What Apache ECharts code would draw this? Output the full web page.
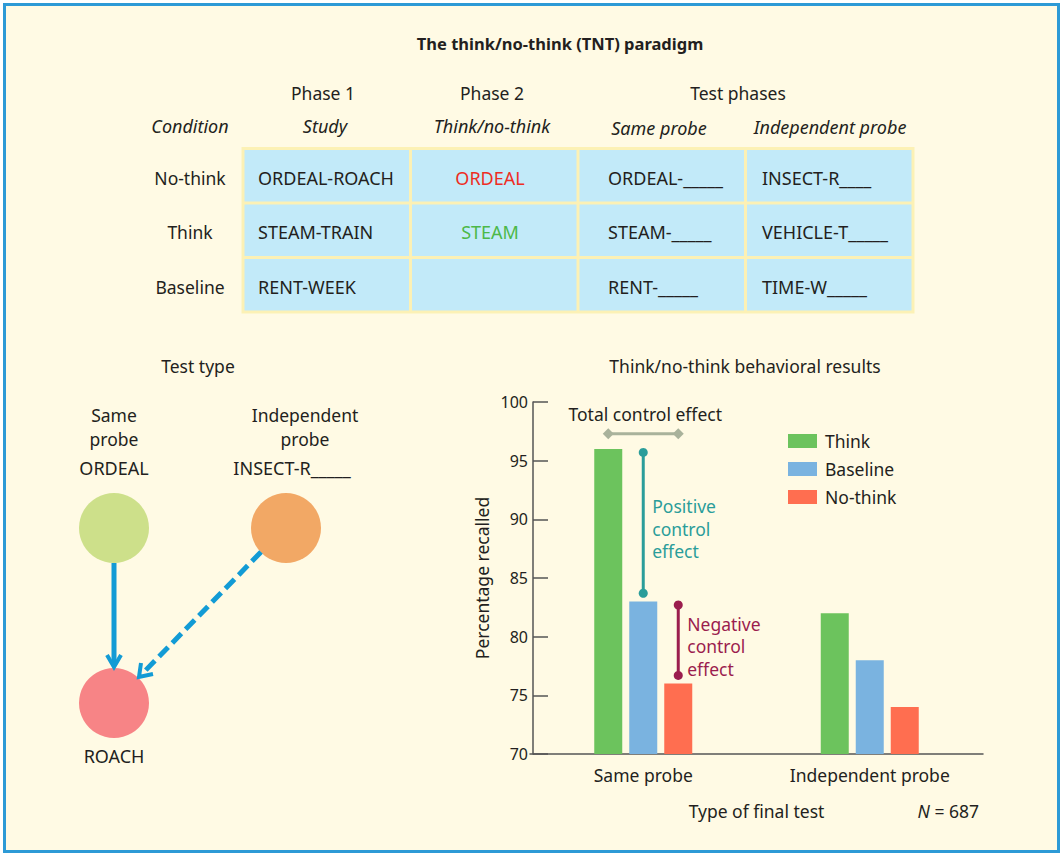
<!DOCTYPE html>
<html><head><meta charset="utf-8">
<script src="https://cdn.jsdelivr.net/npm/echarts@6/dist/echarts.min.js"></script>
<style>html,body{margin:0;padding:0;background:#fff}#c{width:1063px;height:858px}</style>
</head><body><div id="c"></div>
<script>
// ---------- data ----------
const testTypes = ['Same probe', 'Independent probe'];
const seriesNames = ['Think', 'Baseline', 'No-think'];
const thinkValues = [96, 82];
const baselineValues = [83, 78];
const noThinkValues = [76, 74];
const yTickValues = [70, 75, 80, 85, 90, 95, 100];
// [category index, from bar slot, to bar slot, level]
const totalEffect = [[0, 0, 2, 97.3]];
// [category index, bar slot, top value, bottom value]
const positiveEffect = [[0, 1, 95.7, 83.7]];
const negativeEffect = [[0, 2, 82.7, 76.7]];

const conditions = ['No-think', 'Think', 'Baseline'];
const phaseHeaders = ['Phase 1', 'Phase 2', 'Test phases'];
const subHeaders = ['Condition', 'Study', 'Think/no-think', 'Same probe', 'Independent probe'];
const studyPairs = ['ORDEAL-ROACH', 'STEAM-TRAIN', 'RENT-WEEK'];
const phase2Cues = ['ORDEAL', 'STEAM', ''];
const sameProbes = ['ORDEAL-_____', 'STEAM-_____', 'RENT-_____'];
const independentProbes = ['INSECT-R____', 'VEHICLE-T_____', 'TIME-W_____'];

// ---------- styles ----------
const FONT = '"Noto Sans", "Open Sans", sans-serif';
const INK = '#231f20';
const COLORS = ['#6cc35d', '#7ab3e0', '#ff6e50'];
const BAR_W = 28, BAR_GAP = 7;
const TEAL = '#2a9d9a', MAROON = '#9b1d4e', GREY = '#a9b29b';
const ARROW = '#129bd5';
const FS = 17.5, FS_UP = 18;

function txt(text, x, y, opt) {
  opt = opt || {};
  return {
    type: 'text', x: x, y: y, silent: true,
    style: {
      text: text,
      font: (opt.style || 'normal') + ' ' + (opt.weight || 'normal') + ' ' + (opt.size || FS) + 'px ' + FONT,
      fill: opt.fill || INK,
      textAlign: opt.align || 'center',
      textVerticalAlign: 'middle'
    }
  };
}

// ---------- graphics (table + diagram) ----------
const g = [];
g.push({ type: 'rect', z: -100, silent: true, shape: { x: 4.5, y: 4.5, width: 1054, height: 847 },
  style: { fill: '#fffae4', stroke: '#2d9ad6', lineWidth: 3 } });
g.push(txt('The think/no-think (TNT) paradigm', 560, 43, { weight: 'bold', size: 16.5 }));

const colLeft = 241.5, colW = 167.5, rowTop = 147, rowH = 54.5;
g.push(txt(phaseHeaders[0], 323, 93));
g.push(txt(phaseHeaders[1], 492, 93));
g.push(txt(phaseHeaders[2], 738, 93));
g.push(txt(subHeaders[0], 190, 126, { style: 'italic', size: 18 }));
g.push(txt(subHeaders[1], 325, 126, { style: 'italic', size: 18 }));
g.push(txt(subHeaders[2], 492, 126, { style: 'italic', size: 18 }));
g.push(txt(subHeaders[3], 659, 128, { style: 'italic', size: 18 }));
g.push(txt(subHeaders[4], 830, 127, { style: 'italic', size: 18 }));

g.push({ type: 'rect', silent: true, shape: { x: colLeft, y: rowTop, width: colW * 4 + 3, height: rowH * 3 + 3 },
  style: { fill: '#fcf1b5' } });
for (let r = 0; r < 3; r++) {
  for (let c = 0; c < 4; c++) {
    g.push({ type: 'rect', silent: true,
      shape: { x: colLeft + 3 + c * colW, y: rowTop + 3 + r * rowH, width: colW - 3, height: rowH - 3 },
      style: { fill: '#c2eaf9' } });
  }
  const cy = rowTop + 3 + r * rowH + (rowH - 3) / 2 + 2;
  g.push(txt(conditions[r], 190, cy));
  g.push(txt(studyPairs[r], 258, cy, { align: 'left', size: FS_UP }));
  g.push(txt(phase2Cues[r], 490, cy, { size: FS_UP, fill: r === 0 ? '#ee2d24' : '#4cb848' }));
  g.push(txt(sameProbes[r], 608, cy, { align: 'left', size: FS_UP }));
  g.push(txt(independentProbes[r], 762, cy, { align: 'left', size: FS_UP }));
}

// diagram
g.push(txt('Test type', 198, 366));
g.push(txt('Same', 114, 415));
g.push(txt('probe', 114, 439));
g.push(txt('ORDEAL', 114, 468, { size: FS_UP }));
g.push(txt('Independent', 305, 415));
g.push(txt('probe', 305, 439));
g.push(txt('INSECT-R_____', 292, 468, { size: FS_UP }));
g.push(txt('ROACH', 114, 756, { size: FS_UP }));
g.push({ type: 'circle', silent: true, shape: { cx: 114, cy: 528, r: 35 }, style: { fill: '#cde08a' } });
g.push({ type: 'circle', silent: true, shape: { cx: 286, cy: 528, r: 35 }, style: { fill: '#f2a865' } });
g.push({ type: 'circle', silent: true, shape: { cx: 114, cy: 703, r: 35 }, style: { fill: '#f78486' } });
g.push({ type: 'line', silent: true, shape: { x1: 114, y1: 563, x2: 114, y2: 664 },
  style: { stroke: ARROW, lineWidth: 5 } });
g.push({ type: 'polyline', silent: true, shape: { points: [[107, 655], [114, 667], [121, 655]] },
  style: { stroke: ARROW, lineWidth: 4, fill: null } });
g.push({ type: 'line', silent: true, shape: { x1: 261, y1: 552, x2: 143, y2: 673 },
  style: { stroke: ARROW, lineWidth: 5, lineDash: [13, 6] } });
g.push({ type: 'polyline', silent: true, shape: { points: [[141, 663], [139, 677], [153, 674]] },
  style: { stroke: ARROW, lineWidth: 4, fill: null } });

g.push(txt('Think/no-think behavioral results', 745, 366));
g.push({ type: 'text', silent: true, x: 979, y: 811,
  style: { rich: { i: { font: 'italic ' + FS + 'px ' + FONT, fill: INK }, n: { font: FS + 'px ' + FONT, fill: INK } },
    text: '{i|N}{n| = 687}', textAlign: 'right', textVerticalAlign: 'middle' } });

// ---------- annotation renderers ----------
function slotOffset(slot) { return (slot - (seriesNames.length - 1) / 2) * (BAR_W + BAR_GAP); }
function dot(x, y, color) { return { type: 'circle', shape: { cx: x, cy: y, r: 4.5 }, style: { fill: color } }; }
function diamond(x, y) {
  const s = 5.5;
  return { type: 'polygon', shape: { points: [[x, y - s], [x + s, y], [x, y + s], [x - s, y]] }, style: { fill: GREY } };
}
function renderTotal(params, api) {
  const p = api.coord([api.value(0), api.value(3)]);
  const x0 = p[0] + slotOffset(api.value(1)), x1 = p[0] + slotOffset(api.value(2));
  return { type: 'group', children: [
    { type: 'line', shape: { x1: x0, y1: p[1], x2: x1, y2: p[1] }, style: { stroke: GREY, lineWidth: 3 } },
    diamond(x0, p[1]), diamond(x1, p[1]),
    { type: 'text', x: (x0 + x1) / 2 + 2, y: p[1] - 20,
      style: { text: 'Total control effect', font: FS + 'px ' + FONT, fill: INK, textAlign: 'center', textVerticalAlign: 'middle' } }
  ] };
}
function makeVertical(color, label) {
  return function (params, api) {
    const top = api.coord([api.value(0), api.value(2)]);
    const bot = api.coord([api.value(0), api.value(3)]);
    const x = top[0] + slotOffset(api.value(1));
    const mid = (top[1] + bot[1]) / 2 + 6;
    return { type: 'group', children: [
      { type: 'line', shape: { x1: x, y1: top[1], x2: x, y2: bot[1] }, style: { stroke: color, lineWidth: 3 } },
      dot(x, top[1], color), dot(x, bot[1], color),
      { type: 'text', x: x + 9, y: mid,
        style: { text: label, font: FS + 'px ' + FONT, fill: color, lineHeight: 22.5,
          textAlign: 'left', textVerticalAlign: 'middle' } }
    ] };
  };
}

const chart = echarts.init(document.getElementById('c'), null, { renderer: 'svg', width: 1063, height: 858 });
const barData = [thinkValues, baselineValues, noThinkValues];
chart.setOption({
  animation: false,
  textStyle: { fontFamily: FONT },
  graphic: { elements: g },
  grid: { left: 530, right: 80, top: 402, bottom: 104, containLabel: false },
  legend: {
    data: seriesNames, orient: 'vertical', left: 783, top: 427,
    itemWidth: 29, itemHeight: 14, itemGap: 10, icon: 'rect',
    textStyle: { fontSize: 17.5, color: INK, fontFamily: FONT, padding: [0, 0, 0, 3] }, selectedMode: false
  },
  xAxis: {
    type: 'category', data: testTypes,
    axisLine: { lineStyle: { color: '#555', width: 1.5 } },
    axisTick: { show: false },
    axisLabel: { fontSize: FS, color: INK, margin: 12 },
    name: 'Type of final test', nameLocation: 'middle', nameGap: 48,
    nameTextStyle: { fontSize: FS, color: INK }
  },
  yAxis: {
    type: 'value', min: 70, max: 100, interval: 5, offset: -3,
    axisLine: { show: true, lineStyle: { color: '#555', width: 1.5 } },
    axisTick: { show: true, inside: true, length: 15, lineStyle: { color: '#555', width: 1.5 } },
    splitLine: { show: false },
    axisLabel: { fontSize: 16, color: INK, margin: 5, customValues: yTickValues },
    name: 'Percentage recalled', nameLocation: 'middle', nameGap: 42, nameRotate: 90,
    nameTextStyle: { fontSize: FS, color: INK }
  },
  series: seriesNames.map((n, i) => ({
    name: n, type: 'bar', data: barData[i], barWidth: BAR_W, barGap: (BAR_GAP / BAR_W * 100) + '%',
    itemStyle: { color: COLORS[i] }, silent: true
  })).concat([
    { type: 'custom', name: 'total', data: totalEffect, renderItem: renderTotal, silent: true, clip: false, z: 5 },
    { type: 'custom', name: 'positive', data: positiveEffect, renderItem: makeVertical(TEAL, 'Positive\ncontrol\neffect'), silent: true, clip: false, z: 5 },
    { type: 'custom', name: 'negative', data: negativeEffect, renderItem: makeVertical(MAROON, 'Negative\ncontrol\neffect'), silent: true, clip: false, z: 5 }
  ])
});
</script></body></html>
